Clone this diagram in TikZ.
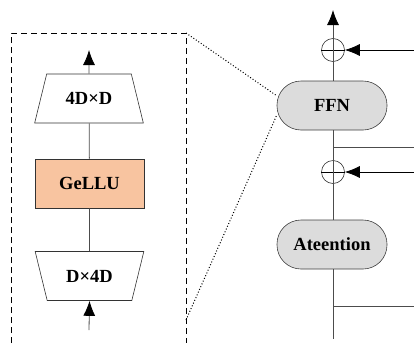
\documentclass[tikz,border=0pt]{standalone}
\usepackage{fontspec}
\setmainfont{Liberation Serif}
\usepackage{tikz}
\usetikzlibrary{shapes.geometric,arrows.meta}

\definecolor{gelucol}{HTML}{F8C4A0}
\definecolor{blockgray}{HTML}{DCDCDC}

\tikzset{
  lbl/.style={font=\fontsize{18.5}{22}\selectfont\bfseries},
  wire/.style={draw=black!70, line width=0.8pt},
  arr/.style={-{Latex[length=15pt,width=12pt,color=black]}, line width=0.8pt},
  trap/.style={trapezium, draw=black!80, line width=0.6pt, trapezium stretches=true,
    trapezium left angle=61.6, trapezium right angle=61.6,
    minimum width=109pt, minimum height=49pt, inner sep=0pt, lbl},
  pill/.style={rectangle, rounded corners=24pt, draw=black!75, line width=0.6pt,
    fill=blockgray, minimum width=110pt, minimum height=49pt, lbl},
  addop/.style={circle, draw=black!80, line width=0.6pt, minimum size=23pt, inner sep=0pt}
}

\begin{document}
\begin{tikzpicture}[x=1pt,y=-1pt]
\useasboundingbox (0,0) rectangle (414,343);

% Corners of the zoom box
\coordinate (BTL) at (11,33);    % top left
\coordinate (BTR) at (186,33);   % top right
\coordinate (BBR) at (186,320);  % where the lower dotted line leaves

% Dashed zoom box (bottom runs off the page)
\draw[dash pattern=on 6pt off 4pt, line width=0.8pt] (11,343) -- (BTL) -- (BTR) -- (186,343);

% Left column: expanded FFN
\node[trap] (up) at (89,98.5) {4D×D};                        % upper projection
\node[rectangle, draw=black!80, line width=0.6pt, fill=gelucol,
      minimum width=109pt, minimum height=49pt, lbl] (act) at (89.5,183.5) {GeLLU}; % activation
\node[trap, shape border rotate=180] (down) at (89.5,276) {D×4D}; % lower projection
\coordinate (outL) at (89,50);   % arrow out at the top
\coordinate (inL) at (89,330);   % arrow in at the bottom

\draw[wire] (act) -- (up);
\draw[wire] (down) -- (act);
\draw[arr, draw=black!70] (up.north) -- (outL);
\draw[arr, draw=black!70] (inL) -- (down.south);

% Right column: block with residual adds
\node[addop] (add1) at (333,50) {};       % upper add
\node[pill] (ffn) at (332,105.5) {FFN};   % feed forward
\node[addop] (add2) at (333,172) {};      % lower add
\node[pill] (att) at (332,244.5) {Ateention}; % attention
\coordinate (outR) at (333,10);           % top output
\coordinate (endR) at (333,339);          % bottom end
\coordinate (res1) at (414,50);           % residual into upper add
\coordinate (res2) at (414,172);          % residual into lower add
\coordinate (tap1) at (333,147);          % branch below FFN
\coordinate (tap2) at (333,306);          % branch below attention

% Plus signs inside the add circles
\draw[line width=0.6pt] (add1.west) -- (add1.east);
\draw[line width=0.6pt] (add2.west) -- (add2.east);
\draw[wire] (add1.south) -- (add1.north);
\draw[wire] (add2.south) -- (add2.north);

% Main vertical path
\draw[arr, draw=black!70] (add1.north) -- (outR);
\draw[wire] (ffn.north -| add1) -- (add1.south);
\draw[wire] (add2.north) -- (ffn.south -| add2);
\draw[wire] (att.north -| add2) -- (add2.south);
\draw[wire] (att.south -| endR) -- (endR);

% Branches going right
\draw[wire] (tap1) -- (414,147);
\draw[wire] (tap2) -- (414,306);

% Residual arrows into the adds
\draw[arr] (res1) -- (add1.east);
\draw[arr] (res2) -- (add2.east);

% Dotted zoom lines
\draw[dotted, line width=1pt] (BTR) -- (ffn.170);
\draw[dotted, line width=1pt] (BBR) -- (ffn.190);

\end{tikzpicture}
\end{document}
